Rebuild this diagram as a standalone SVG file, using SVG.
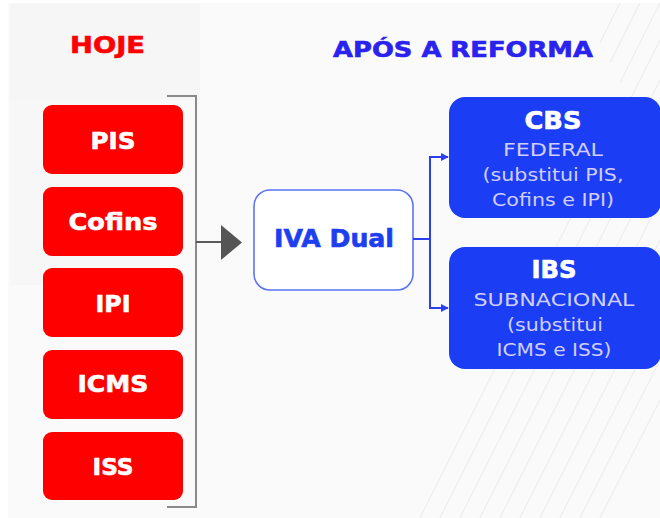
<svg xmlns="http://www.w3.org/2000/svg" width="660" height="518" viewBox="0 0 660 518">
  <defs>
    <style>
      .bold { font-family: "DejaVu Sans", "Liberation Sans", sans-serif; font-weight: bold; stroke-width: 0.6; paint-order: stroke; }
      .light { font-family: "DejaVu Sans", "Liberation Sans", sans-serif; font-weight: normal; }
      .red-box { fill: #fe0000; }
      .red-label { fill: #ffffff; stroke: #ffffff; font-size: 23px; text-anchor: middle; }
      .blue-box { fill: #1b3df4; }
      .blue-title { fill: #ffffff; stroke: #ffffff; font-size: 24px; text-anchor: middle; }
      .blue-sub { fill: #d0cfff; font-size: 18px; text-anchor: middle; }
      .stripe { stroke: #ededed; stroke-width: 1.2; }
    </style>
    <marker id="tip" viewBox="0 0 10 10" refX="9" refY="5" markerWidth="4" markerHeight="4" orient="auto" markerUnits="strokeWidth">
      <path d="M0,0 L10,5 L0,10 Z" fill="#2c3ff0"/>
    </marker>
    <clipPath id="panel">
      <rect x="8" y="3" width="652" height="515"/>
    </clipPath>
  </defs>

  <!-- page and panel background -->
  <rect x="0" y="0" width="660" height="518" fill="#ffffff"/>
  <rect x="8" y="3" width="652" height="515" fill="#fafafa"/>
  <rect x="10" y="3" width="190" height="97" fill="#f6f6f6"/>
  <rect x="10" y="100" width="150" height="185" fill="#f7f7f7"/>

  <!-- faint diagonal stripes on the right -->
  <g clip-path="url(#panel)">
    <line class="stripe" x1="420" y1="518" x2="660" y2="40"/>
    <line class="stripe" x1="440" y1="518" x2="660" y2="80"/>
    <line class="stripe" x1="460" y1="518" x2="660" y2="120"/>
    <line class="stripe" x1="480" y1="518" x2="660" y2="160"/>
    <line class="stripe" x1="500" y1="518" x2="660" y2="200"/>
    <line class="stripe" x1="520" y1="518" x2="660" y2="240"/>
    <line class="stripe" x1="540" y1="518" x2="660" y2="280"/>
    <line class="stripe" x1="560" y1="518" x2="660" y2="320"/>
    <line class="stripe" x1="580" y1="518" x2="660" y2="360"/>
    <line class="stripe" x1="600" y1="518" x2="660" y2="400"/>
    <line class="stripe" x1="620" y1="3" x2="600" y2="43"/>
    <line class="stripe" x1="640" y1="3" x2="610" y2="63"/>
    <line class="stripe" x1="660" y1="3" x2="620" y2="83"/>
  </g>

  <!-- column headings -->
  <text class="bold" x="107.5" y="53" font-size="23" fill="#ff0000" stroke="#ff0000" text-anchor="middle" textLength="75" lengthAdjust="spacingAndGlyphs">HOJE</text>
  <text class="bold" x="463" y="57" font-size="22" fill="#2a22ee" stroke="#2a22ee" text-anchor="middle" textLength="260" lengthAdjust="spacingAndGlyphs">APÓS A REFORMA</text>

  <!-- current taxes -->
  <g id="pis">
    <rect class="red-box" x="43" y="105" width="140" height="69" rx="9"/>
    <text class="bold red-label" x="113" y="149" textLength="45" lengthAdjust="spacingAndGlyphs">PIS</text>
  </g>
  <g id="cofins">
    <rect class="red-box" x="43" y="187" width="140" height="69" rx="9"/>
    <text class="bold red-label" x="113" y="230" textLength="89" lengthAdjust="spacingAndGlyphs">Cofins</text>
  </g>
  <g id="ipi">
    <rect class="red-box" x="43" y="268" width="140" height="69" rx="9"/>
    <text class="bold red-label" x="113" y="312" textLength="35" lengthAdjust="spacingAndGlyphs">IPI</text>
  </g>
  <g id="icms">
    <rect class="red-box" x="43" y="350" width="140" height="69" rx="9"/>
    <text class="bold red-label" x="113" y="392" textLength="71" lengthAdjust="spacingAndGlyphs">ICMS</text>
  </g>
  <g id="iss">
    <rect class="red-box" x="43" y="432" width="140" height="68" rx="9"/>
    <text class="bold red-label" x="113" y="475" textLength="41" lengthAdjust="spacingAndGlyphs">ISS</text>
  </g>

  <!-- dual VAT -->
  <g id="iva-dual">
    <rect x="254" y="190" width="159" height="100" rx="16" fill="#ffffff" stroke="#5a74f6" stroke-width="1.6"/>
    <text class="bold" x="334" y="247" font-size="24" fill="#1e3ff0" stroke="#1e3ff0" text-anchor="middle" textLength="120" lengthAdjust="spacingAndGlyphs">IVA Dual</text>
  </g>

  <!-- new taxes -->
  <g id="cbs">
    <rect class="blue-box" x="449" y="97" width="212" height="121" rx="16"/>
    <text class="bold blue-title" x="553" y="129" textLength="57" lengthAdjust="spacingAndGlyphs">CBS</text>
    <text class="light blue-sub" x="553" y="156" textLength="100" lengthAdjust="spacingAndGlyphs">FEDERAL</text>
    <text class="light blue-sub" x="553" y="181" textLength="141" lengthAdjust="spacingAndGlyphs">(substitui PIS,</text>
    <text class="light blue-sub" x="553" y="206" textLength="122" lengthAdjust="spacingAndGlyphs">Cofins e IPI)</text>
  </g>
  <g id="ibs">
    <rect class="blue-box" x="449" y="247" width="212" height="122" rx="16"/>
    <text class="bold blue-title" x="554" y="278" textLength="45" lengthAdjust="spacingAndGlyphs">IBS</text>
    <text class="light blue-sub" x="554" y="306" textLength="161" lengthAdjust="spacingAndGlyphs">SUBNACIONAL</text>
    <text class="light blue-sub" x="555" y="331" textLength="96" lengthAdjust="spacingAndGlyphs">(substitui</text>
    <text class="light blue-sub" x="554" y="356" textLength="115" lengthAdjust="spacingAndGlyphs">ICMS e ISS)</text>
  </g>

  <!-- connectors -->
  <g id="connectors">
    <!-- bracket grouping the current taxes -->
    <polyline points="167,96 196,96 196,507 167,507" fill="none" stroke="#8a8a8a" stroke-width="2"/>
    <line x1="196" y1="242" x2="222" y2="242" stroke="#5a5a5a" stroke-width="2"/>
    <polygon points="221,225 242,242.5 221,260" fill="#555555"/>
    <!-- split from the dual VAT into the two new taxes -->
    <line x1="413" y1="239" x2="430" y2="239" stroke="#2c3ff0" stroke-width="2"/>
    <polyline points="430,308 430,157 448,157" fill="none" stroke="#2c3ff0" stroke-width="2" marker-end="url(#tip)"/>
    <polyline points="430,239 430,308 448,308" fill="none" stroke="#2c3ff0" stroke-width="2" marker-end="url(#tip)"/>
  </g>
</svg>
